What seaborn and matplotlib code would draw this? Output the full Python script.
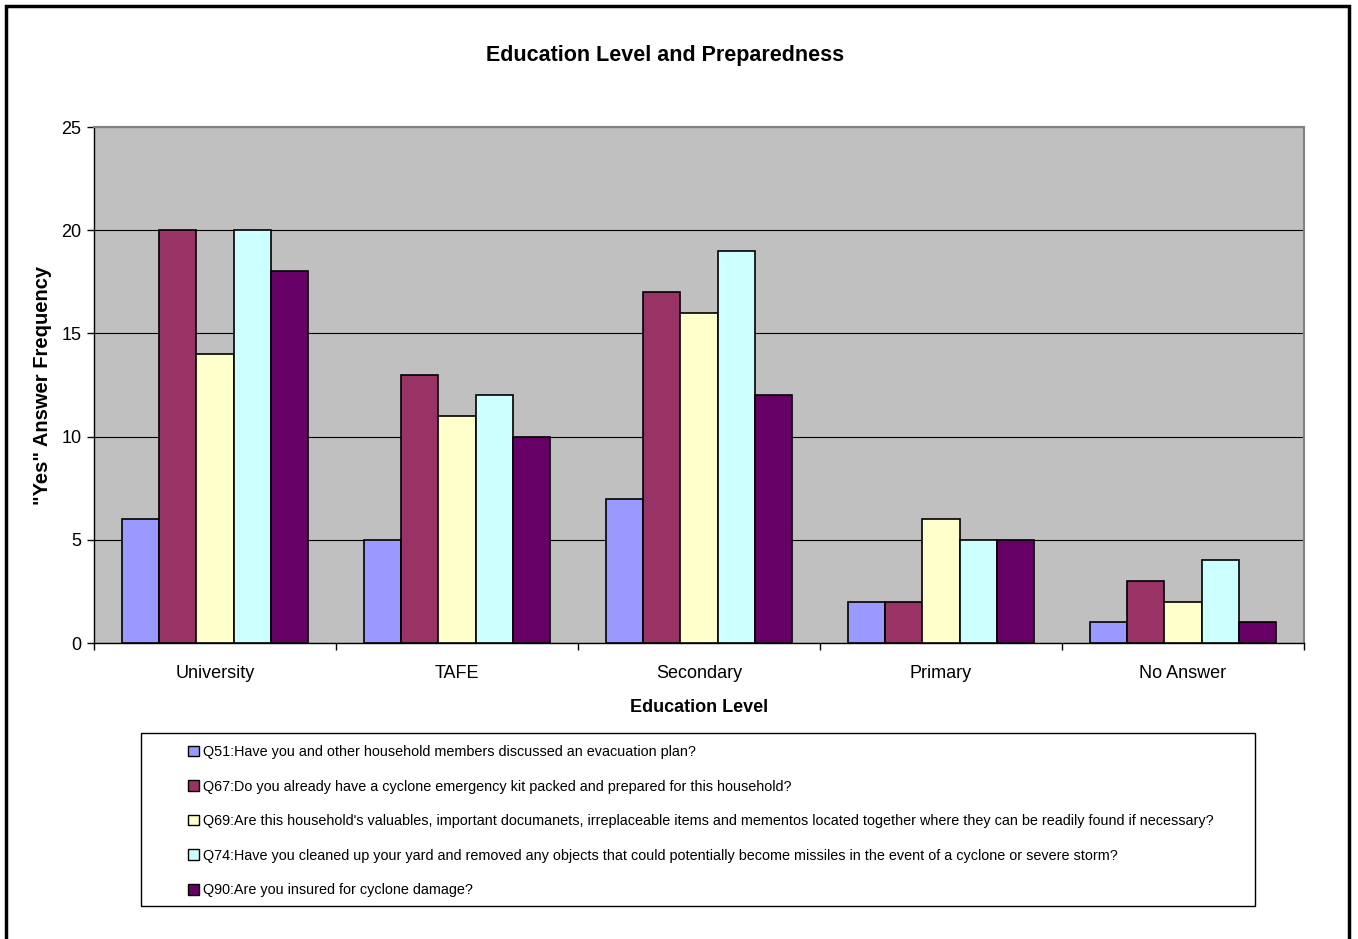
import matplotlib
matplotlib.use("Agg")
import matplotlib.pyplot as plt
from matplotlib.patches import Rectangle
import numpy as np
import pandas as pd
import seaborn as sns

# Data
levels = ["University", "TAFE", "Secondary", "Primary", "No Answer"]
questions = [
    "Q51:Have you and other household members discussed an evacuation plan?",
    "Q67:Do you already have a cyclone emergency kit packed and prepared for this household?",
    "Q69:Are this household's valuables, important documanets, irreplaceable items and mementos located together where they can be readily found if necessary?",
    "Q74:Have you cleaned up your yard and removed any objects that could potentially become missiles in the event of a cyclone or severe storm?",
    "Q90:Are you insured for cyclone damage?",
]
q51 = [6, 5, 7, 2, 1]
q67 = [20, 13, 17, 2, 3]
q69 = [14, 11, 16, 6, 2]
q74 = [20, 12, 19, 5, 4]
q90 = [18, 10, 12, 5, 1]
colors = ["#9999FF", "#993366", "#FFFFCC", "#CCFFFF", "#660066"]

rows = []
for q, vals in zip(questions, [q51, q67, q69, q74, q90]):
    for lvl, v in zip(levels, vals):
        rows.append({"Education Level": lvl, "Question": q, "Count": v})
df = pd.DataFrame(rows)

sns.set_style("white")
plt.rcParams["font.family"] = ["Liberation Sans", "DejaVu Sans"]
plt.rcParams["text.color"] = "black"
plt.rcParams["axes.labelcolor"] = "black"
plt.rcParams["xtick.color"] = "black"
plt.rcParams["ytick.color"] = "black"

W, H = 1358, 939
fig = plt.figure(figsize=(W / 100, H / 100), dpi=100)
ax = fig.add_axes([94 / W, 1 - 643 / H, (1304 - 94) / W, (643 - 127) / H])
ax.set_facecolor("#C0C0C0")

sns.barplot(
    data=df, x="Education Level", y="Count", hue="Question",
    order=levels, hue_order=questions, palette=colors,
    width=0.77, gap=0, edgecolor="black", linewidth=1.2,
    saturation=1, errorbar=None, legend=False, ax=ax, zorder=3,
)

ax.set_ylim(0, 25)
ax.set_xlim(-0.5, 4.5)
ax.set_yticks([0, 5, 10, 15, 20, 25])
ax.yaxis.grid(True, color="black", linewidth=0.8, zorder=1)
ax.set_axisbelow(True)
ax.tick_params(axis="y", direction="out", length=5, width=1, color="black",
               labelsize=13, left=True, pad=4)
ax.set_xticks(range(len(levels)))
ax.set_xticks(np.arange(-0.5, 4.6, 1), minor=True)
ax.tick_params(axis="x", which="major", length=0, labelsize=13, pad=16)
ax.tick_params(axis="x", which="minor", direction="out", length=5, width=1,
               color="black", bottom=True)

for side in ["top", "right"]:
    ax.spines[side].set_color("#808080")
    ax.spines[side].set_linewidth(1.5)
for side in ["left", "bottom"]:
    ax.spines[side].set_color("black")
    ax.spines[side].set_linewidth(1)

ax.set_xlabel("Education Level", fontsize=13, fontweight="bold", labelpad=12)
ax.set_ylabel('"Yes" Answer Frequency', fontsize=14.5, fontweight="bold",
              labelpad=7)
fig.text(665 / W, 1 - 55 / H, "Education Level and Preparedness",
         ha="center", va="center", fontsize=15.5, fontweight="bold")

# legend box
fig.patches.append(Rectangle((141 / W, 1 - 906 / H), (1255 - 141) / W,
                             (906 - 733) / H, transform=fig.transFigure,
                             facecolor="white", edgecolor="black",
                             linewidth=1, zorder=1))
handles = [Rectangle((0, 0), 1, 1, facecolor=c, edgecolor="black", linewidth=1)
           for c in colors]
fig.legend(handles, questions, loc="upper left",
           bbox_to_anchor=(181 / W, 1 - 738 / H), frameon=False,
           fontsize=10.4, handlelength=0.75, handleheight=0.75,
           handletextpad=0.25, labelspacing=1.42, borderpad=0)

# outer chart border (bottom edge runs off the image)
fig.patches.append(Rectangle((6 / W, -0.05), (1349 - 6) / W, 1.05 - 6 / H,
                             transform=fig.transFigure, facecolor="none",
                             edgecolor="black", linewidth=2.5, zorder=0))

fig.savefig("out.png", dpi=100)
